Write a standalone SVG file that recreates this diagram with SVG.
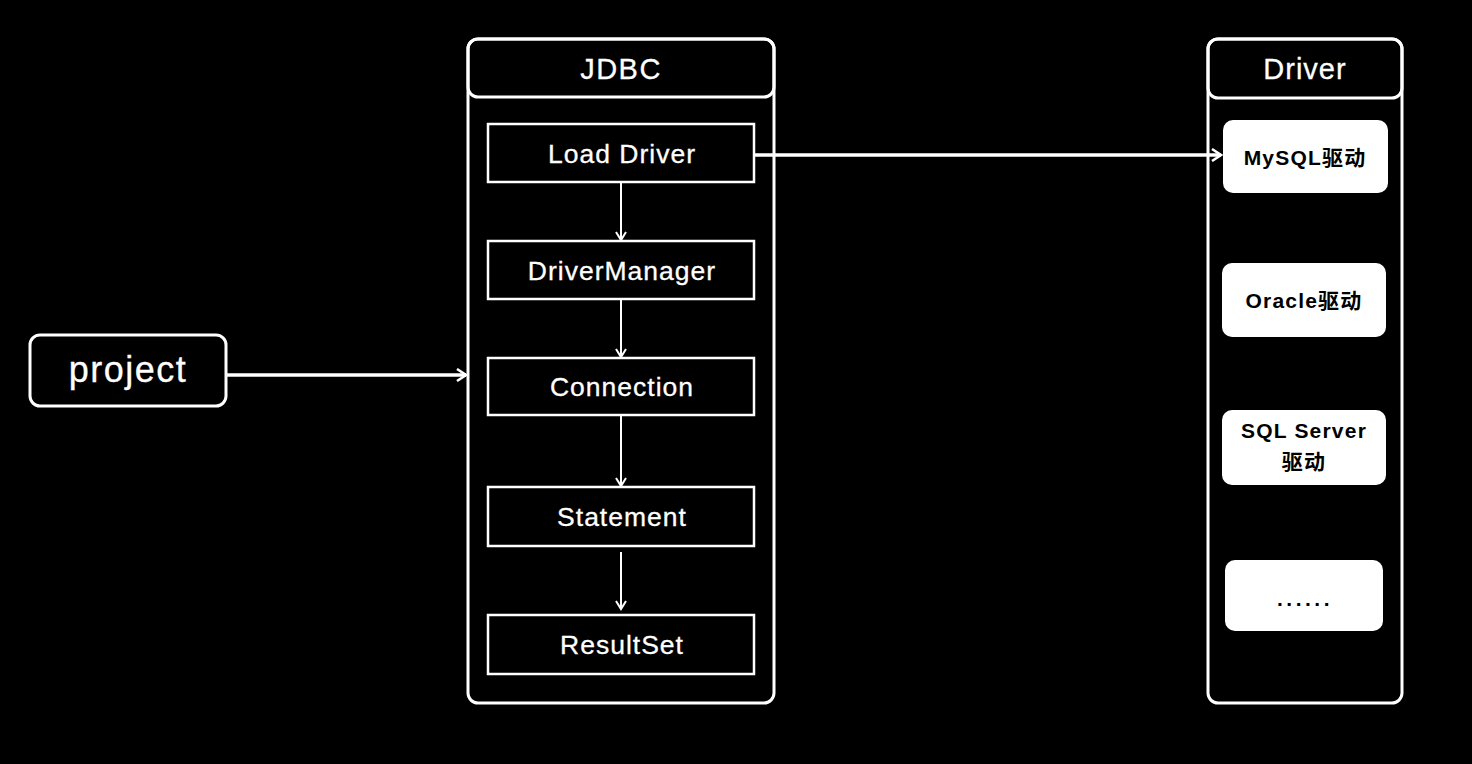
<svg xmlns="http://www.w3.org/2000/svg" width="1472" height="764" viewBox="0 0 1472 764">
<defs>
<marker id="arr" markerWidth="12" markerHeight="14" refX="10" refY="7" orient="auto" markerUnits="userSpaceOnUse">
<path d="M1,1 L10,7 L1,13" fill="none" stroke="#fff" stroke-width="2.5"/>
</marker>
<marker id="arrs" markerWidth="12" markerHeight="12" refX="9" refY="6" orient="auto" markerUnits="userSpaceOnUse">
<path d="M1,1 L9,6 L1,11" fill="none" stroke="#fff" stroke-width="2"/>
</marker>
</defs>
<style>
text{font-family:"Liberation Sans","Noto Sans CJK SC",Arial,sans-serif;text-anchor:middle;dominant-baseline:central;fill:#fff}
.w{stroke:#fff;stroke-width:0.3}
.frame{fill:none;stroke:#fff;stroke-width:3}
.step{fill:#000;stroke:#fff;stroke-width:2.5}
.drv{fill:#fff;stroke:none}
.drv-t{fill:#000;font-size:21px;font-weight:bold;letter-spacing:1.2px}
.conn{stroke:#fff;fill:none}
.st{font-size:26.5px;letter-spacing:1px}
</style>
<rect x="0" y="0" width="1472" height="764" fill="#000"/>
<g id="jdbc">
<rect class="frame" x="468" y="39" width="306" height="664" rx="10"/>
<rect class="frame" x="468" y="39" width="306" height="58" rx="10"/>
<text class="w" x="621" y="69" font-size="29" letter-spacing="1.5">JDBC</text>
</g>
<g id="load-driver">
<rect class="step" x="488" y="124" width="266" height="58"/>
<text class="w st" x="622" y="154">Load Driver</text>
</g>
<g id="driver-manager">
<rect class="step" x="488" y="241" width="266" height="58"/>
<text class="w st" x="622" y="271">DriverManager</text>
</g>
<g id="connection">
<rect class="step" x="488" y="358" width="266" height="57"/>
<text class="w st" x="622" y="387">Connection</text>
</g>
<g id="statement">
<rect class="step" x="488" y="487" width="266" height="59"/>
<text class="w st" x="622" y="517">Statement</text>
</g>
<g id="resultset">
<rect class="step" x="488" y="615" width="266" height="59"/>
<text class="w st" x="622" y="645">ResultSet</text>
</g>
<g id="driver">
<rect class="frame" x="1208" y="39" width="194" height="664" rx="10"/>
<rect class="frame" x="1208" y="39" width="194" height="59" rx="10"/>
<text class="w" x="1305" y="69" font-size="29" letter-spacing="1">Driver</text>
</g>
<g id="mysql">
<rect class="drv" x="1223" y="120" width="165" height="73" rx="10"/>
<text class="drv-t" x="1305" y="157">MySQL驱动</text>
</g>
<g id="oracle">
<rect class="drv" x="1222" y="263" width="164" height="74" rx="10"/>
<text class="drv-t" x="1304" y="300">Oracle驱动</text>
</g>
<g id="sqlserver">
<rect class="drv" x="1222" y="410" width="164" height="75" rx="10"/>
<text class="drv-t" x="1304" y="430">SQL Server</text>
<text class="drv-t" x="1304" y="461">驱动</text>
</g>
<g id="more">
<rect class="drv" x="1225" y="560" width="158" height="71" rx="10"/>
<text class="drv-t" x="1305" y="598" style="letter-spacing:3.5px">......</text>
</g>
<g id="project">
<rect class="frame" x="30" y="335" width="196" height="71" rx="10"/>
<text class="w" x="128" y="369" font-size="36" letter-spacing="1.5">project</text>
</g>
<g id="connectors">
<line class="conn" x1="227" y1="375" x2="466" y2="375" stroke-width="3.5" marker-end="url(#arr)"/>
<line class="conn" x1="755" y1="155" x2="1221" y2="155" stroke-width="3.5" marker-end="url(#arr)"/>
<line class="conn" x1="621" y1="183" x2="621" y2="240" stroke-width="2" marker-end="url(#arrs)"/>
<line class="conn" x1="621" y1="300" x2="621" y2="357" stroke-width="2" marker-end="url(#arrs)"/>
<line class="conn" x1="621" y1="416" x2="621" y2="486" stroke-width="2" marker-end="url(#arrs)"/>
<line class="conn" x1="621" y1="552" x2="621" y2="609" stroke-width="2" marker-end="url(#arrs)"/>
</g>
</svg>
